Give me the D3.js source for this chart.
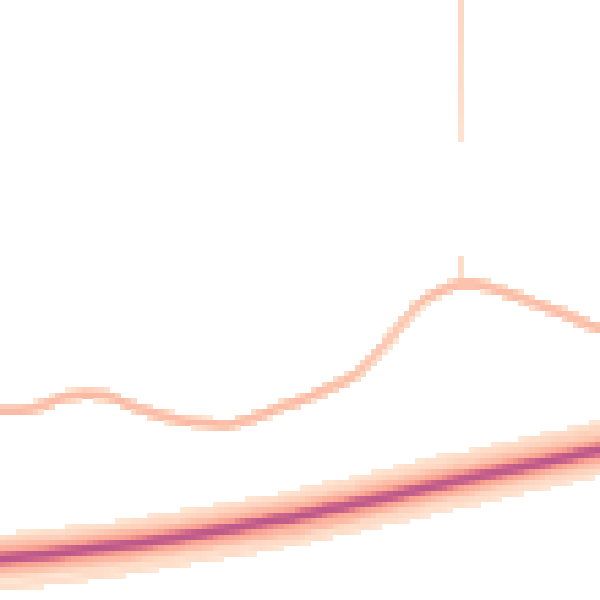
<!DOCTYPE html>
<html>
<head>
<meta charset="utf-8">
<script src="https://cdn.jsdelivr.net/npm/d3@7"></script>
<style>
  html, body { margin: 0; padding: 0; background: #fff; }
  svg { display: block; }
</style>
</head>
<body>
<svg id="chart" width="600" height="600"></svg>
<script>
// ---- data ----
const bandTimes = [0, 10, 20, 30, 40, 50, 60, 70, 80, 90, 100];
const bandSeries = [
  [10.33, 11.43, 12.6, 14.2, 15.97, 17.8, 20.07, 22.5, 24.67, 26.93, 29.2],
  [9.23, 10.33, 11.4, 13.0, 14.77, 16.6, 18.87, 21.1, 23.47, 25.63, 27.9],
  [8.33, 9.43, 10.6, 12.0, 13.77, 15.7, 17.77, 20.2, 22.37, 24.63, 26.7],
  [7.73, 8.73, 10.0, 11.4, 13.07, 14.9, 17.17, 19.4, 21.67, 23.83, 26.0],
  [7.33, 8.33, 9.5, 11.1, 12.67, 14.5, 16.67, 19.0, 21.27, 23.33, 25.5],
  [7.03, 8.03, 9.2, 10.7, 12.37, 14.2, 16.37, 18.7, 20.87, 23.03, 25.2],
  [6.83, 7.83, 9.0, 10.5, 12.17, 14.0, 16.17, 18.5, 20.67, 22.83, 25.0],
  [6.63, 7.63, 8.8, 10.3, 11.97, 13.8, 15.97, 18.3, 20.47, 22.63, 24.8],
  [6.33, 7.33, 8.4, 10.0, 11.67, 13.5, 15.57, 18.0, 20.17, 22.33, 24.5],
  [5.93, 6.83, 8.1, 9.6, 11.17, 13.1, 15.27, 17.5, 19.77, 21.93, 24.1],
  [5.13, 6.23, 7.3, 8.9, 10.47, 12.1, 14.37, 16.9, 19.07, 21.33, 23.5],
  [4.03, 5.13, 6.3, 7.9, 9.57, 11.2, 13.57, 16.0, 18.17, 20.43, 22.6],
  [2.23, 3.43, 4.7, 6.3, 8.07, 10.0, 12.17, 14.6, 16.87, 19.03, 21.3]
];
const bandCounts = [0.4, 0.8, 1.5, 1.8, 2.4, 4, 5, 4, 2.4, 1.8, 1.5, 0.8, 0.4];

const outlierTimes = [0, 5, 8.33, 10.83, 14.17, 17.5, 20.83, 25, 29.17, 33.33, 37.5, 40.83, 45, 48.33,
  53.33, 56.67, 60, 63.33, 66.67, 70, 73.33, 76.67, 79.17, 82.5, 86.67, 90, 93.33, 98.33, 100];
const outlierValues = [31.5, 31.83, 33.0, 33.83, 34.33, 34.0, 32.83, 31.33, 30.17, 29.5, 29.17, 30.0, 31.5, 32.67,
  34.67, 36.17, 38.17, 41.83, 45.67, 49.5, 51.5, 52.67, 52.83, 51.83, 50.5, 49.17, 48.0, 45.83, 45.17];
const outlierCount = 1.8;

const spikeTime = 76.8;
const spikeSegments = [
  { from: 100, to: 76.5, weightTop: 0.4, weightBottom: 0.2 },
  { from: 56.9, to: 54.0, weightTop: 0.3, weightBottom: 0.3 }
];

const densityStops = [0.15, 0.4, 0.8, 1.6, 3, 5, 8, 13];
const colorStops = ["#fee6d4", "#fdd8c3", "#fcc6b0", "#fbb19d", "#f59c8e", "#e47f88", "#cc658a", "#b3538b"];

// ---- layout ----
const W = 600, H = 600, N = 110;
const gx = d3.scaleLinear([0, 100], [0, N]);
const gy = d3.scaleLinear([0, 100], [N, 0]);

const density = Array.from({ length: N }, () => new Float64Array(N)); // [col][row]

const canvas = document.createElement("canvas");
canvas.width = N; canvas.height = N;
const ctx = canvas.getContext("2d", { willReadFrequently: true });

function addSeries(times, values, count) {
  ctx.clearRect(0, 0, N, N);
  const line = d3.line()
    .x((d, i) => gx(times[i]))
    .y(d => gy(d))
    .curve(d3.curveMonotoneX)
    .context(ctx);
  ctx.beginPath();
  line(values);
  ctx.lineWidth = 1.5;
  ctx.strokeStyle = "#000";
  ctx.stroke();
  const img = ctx.getImageData(0, 0, N, N).data;
  for (let c = 0; c < N; c++) {
    let sum = 0;
    for (let r = 0; r < N; r++) sum += img[(r * N + c) * 4 + 3];
    if (sum <= 0) continue;
    for (let r = 0; r < N; r++) {
      const a = img[(r * N + c) * 4 + 3];
      if (a) density[c][r] += count * a / sum;
    }
  }
}

bandSeries.forEach((s, i) => addSeries(bandTimes, s, bandCounts[i]));
addSeries(outlierTimes, outlierValues, outlierCount);

// spike segments
{
  const col = Math.floor(gx(spikeTime));
  spikeSegments.forEach(seg => {
    const r0 = gy(seg.from), r1 = gy(seg.to);
    for (let r = Math.floor(r0); r < Math.ceil(r1); r++) {
      const cover = Math.min(r + 1, r1) - Math.max(r, r0);
      if (cover <= 0.3) continue;
      const t = (r + 0.5 - r0) / Math.max(1e-6, r1 - r0);
      density[col][r] += seg.weightTop + (seg.weightBottom - seg.weightTop) * Math.min(1, Math.max(0, t));
    }
  });
}

const cells = [];
for (let c = 0; c < N; c++) for (let r = 0; r < N; r++) {
  if (density[c][r] >= 0.1) cells.push({ c, r, v: density[c][r] });
}

const color = d3.scaleLog().domain(densityStops).range(colorStops).clamp(true)
  .interpolate(d3.interpolateRgb);
const bx = d3.scaleBand().domain(d3.range(N)).range([0, W]);
const by = d3.scaleBand().domain(d3.range(N)).range([0, H]);

const svg = d3.select("#chart");
svg.append("g")
  .attr("shape-rendering", "crispEdges")
  .selectAll("rect")
  .data(cells)
  .join("rect")
  .attr("x", d => bx(d.c))
  .attr("y", d => by(d.r))
  .attr("width", bx.bandwidth() + 0.5)
  .attr("height", by.bandwidth() + 0.5)
  .attr("fill", d => color(d.v));
</script>
</body>
</html>
